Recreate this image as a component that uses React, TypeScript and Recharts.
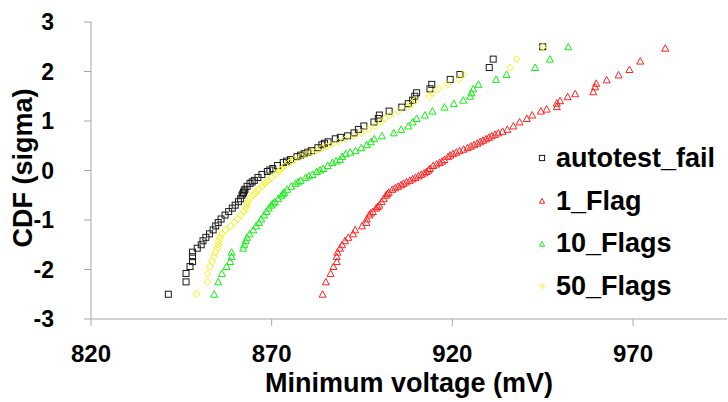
import React from 'react';
import { ScatterChart, Scatter, XAxis, YAxis, Legend, Label } from 'recharts';

const xTicks = [820, 870, 920, 970];
const yTicks = [-3, -2, -1, 0, 1, 2, 3];
const seriesNames = ['autotest_fail', '1_Flag', '10_Flags', '50_Flags'];

// [minimum voltage (mV), CDF (sigma)]
const autotestFail: [number, number][] = [
  [841.4, -2.5], [846.3, -2.25], [846.3, -2.08], [847.4, -1.94], [848.1, -1.84], [848.1, -1.74],
  [848.1, -1.65], [849.4, -1.57], [850.5, -1.5], [851.0, -1.42], [851.8, -1.35], [852.8, -1.28],
  [853.8, -1.2], [854.5, -1.12], [855.2, -1.05], [856.0, -0.98], [857.1, -0.9], [858.1, -0.83],
  [859.1, -0.76], [859.9, -0.7], [860.8, -0.63], [861.4, -0.57], [861.8, -0.5], [862.2, -0.44],
  [862.6, -0.38], [863.2, -0.32], [864.0, -0.26], [865.2, -0.2], [866.2, -0.14], [867.3, -0.08],
  [868.8, -0.02], [870.3, 0.04], [871.6, 0.1], [873.2, 0.16], [875.2, 0.22], [877.0, 0.28],
  [879.0, 0.34], [881.0, 0.4], [882.8, 0.46], [883.9, 0.52], [885.6, 0.58], [887.6, 0.64],
  [891.0, 0.7], [892.8, 0.76], [894.0, 0.83], [895.5, 0.9], [898.3, 0.98], [899.5, 1.05],
  [899.8, 1.12], [902.5, 1.2], [906.0, 1.28], [907.8, 1.35], [909.0, 1.42], [909.6, 1.5],
  [910.1, 1.57], [913.8, 1.65], [914.3, 1.74], [919.4, 1.84], [922.1, 1.94], [930.2, 2.08],
  [931.3, 2.25], [945.0, 2.5],
  [862.0, -0.47], [862.4, -0.41], [864.6, -0.23], [869.5, 0.01], [874.1, 0.19], [878.0, 0.31],
  [880.0, 0.37], [884.6, 0.55], [889.0, 0.67],
];

const oneFlag: [number, number][] = [
  [884.1, -2.5], [885.0, -2.25], [886.3, -2.08], [887.1, -1.94], [888.0, -1.84], [888.0, -1.74],
  [888.2, -1.65], [888.9, -1.57], [889.5, -1.5], [890.3, -1.42], [891.2, -1.35], [892.5, -1.28],
  [893.1, -1.2], [895.0, -1.12], [896.2, -1.05], [896.3, -0.98], [897.0, -0.9], [898.0, -0.83],
  [898.9, -0.76], [899.8, -0.7], [900.4, -0.63], [901.0, -0.57], [901.6, -0.5], [902.4, -0.44],
  [903.4, -0.38], [905.0, -0.32], [906.5, -0.26], [908.2, -0.2], [909.8, -0.14], [911.4, -0.08],
  [912.9, -0.02], [913.8, 0.04], [914.7, 0.1], [916.5, 0.16], [917.8, 0.22], [918.8, 0.28],
  [920.2, 0.34], [922.0, 0.4], [924.2, 0.46], [926.0, 0.52], [927.7, 0.58], [929.3, 0.64],
  [930.9, 0.7], [932.7, 0.76], [935.2, 0.83], [936.9, 0.9], [938.6, 0.98], [940.6, 1.05],
  [942.1, 1.12], [944.5, 1.2], [946.1, 1.24], [948.9, 1.29], [948.9, 1.36], [949.8, 1.41],
  [951.9, 1.49], [954.0, 1.55], [959.0, 1.59], [959.5, 1.69], [959.8, 1.76], [962.7, 1.83],
  [966.0, 1.93], [969.0, 2.04], [972.0, 2.21], [978.9, 2.47],
  [904.2, -0.35], [905.8, -0.29], [907.3, -0.23], [909.0, -0.17], [910.6, -0.11], [912.2, -0.05],
  [913.4, 0.01], [915.6, 0.13], [917.2, 0.19], [919.4, 0.31], [921.1, 0.37], [923.1, 0.43],
  [925.1, 0.49], [926.9, 0.55], [928.5, 0.61], [930.1, 0.67], [931.8, 0.73], [933.9, 0.79],
  [897.4, -0.86], [899.3, -0.73], [902.0, -0.47],
];

const tenFlags: [number, number][] = [
  [854.1, -2.5], [855.2, -2.25], [856.2, -2.08], [857.5, -1.94], [858.5, -1.84], [858.9, -1.74],
  [858.9, -1.65], [862.1, -1.57], [862.4, -1.5], [862.8, -1.42], [863.2, -1.35], [863.9, -1.28],
  [864.9, -1.2], [865.7, -1.12], [866.5, -1.05], [867.1, -0.98], [867.9, -0.9], [868.6, -0.83],
  [869.2, -0.76], [869.9, -0.7], [870.9, -0.63], [871.8, -0.57], [872.7, -0.5], [873.5, -0.44],
  [874.3, -0.38], [875.4, -0.32], [876.6, -0.26], [878.0, -0.2], [879.4, -0.14], [881.3, -0.08],
  [882.5, -0.02], [884.3, 0.04], [885.5, 0.1], [886.8, 0.16], [888.9, 0.22], [889.5, 0.28],
  [890.5, 0.34], [893.2, 0.4], [894.8, 0.46], [896.3, 0.52], [897.5, 0.58], [898.4, 0.64],
  [900.5, 0.7], [903.8, 0.76], [905.8, 0.83], [907.8, 0.9], [909.0, 0.98], [910.1, 1.05],
  [912.4, 1.12], [914.5, 1.2], [917.8, 1.28], [920.4, 1.35], [923.0, 1.42], [924.9, 1.5],
  [925.3, 1.57], [925.8, 1.65], [927.2, 1.74], [932.1, 1.84], [935.0, 1.94], [942.9, 2.08],
  [947.0, 2.25], [952.1, 2.5],
  [870.4, -0.66], [873.1, -0.47], [877.3, -0.23], [880.3, -0.11], [883.4, 0.01], [887.8, 0.19],
  [891.7, 0.37],
];

const fiftyFlags: [number, number][] = [
  [849.2, -2.5], [852.2, -2.25], [852.2, -2.08], [852.9, -1.94], [853.5, -1.84], [854.0, -1.74],
  [854.4, -1.65], [855.0, -1.57], [855.2, -1.5], [855.3, -1.42], [855.7, -1.35], [856.2, -1.28],
  [857.3, -1.2], [858.6, -1.12], [859.6, -1.05], [860.5, -0.98], [861.5, -0.9], [862.3, -0.83],
  [862.9, -0.76], [863.2, -0.7], [863.4, -0.63], [863.8, -0.57], [864.8, -0.5], [865.7, -0.44],
  [866.4, -0.38], [867.3, -0.32], [868.1, -0.26], [869.0, -0.2], [869.9, -0.14], [871.1, -0.08],
  [871.9, -0.02], [872.8, 0.04], [873.7, 0.1], [874.8, 0.16], [876.2, 0.22], [878.0, 0.28],
  [879.6, 0.34], [882.5, 0.4], [884.0, 0.46], [886.5, 0.52], [888.5, 0.58], [890.5, 0.64],
  [892.8, 0.7], [894.8, 0.76], [896.8, 0.83], [898.6, 0.9], [900.3, 0.98], [901.3, 1.05],
  [902.8, 1.12], [905.0, 1.2], [907.5, 1.28], [908.8, 1.35], [909.7, 1.42], [913.6, 1.5],
  [914.5, 1.57], [916.3, 1.65], [918.7, 1.74], [921.9, 1.84], [923.0, 1.94], [936.0, 2.08],
  [937.8, 2.25], [945.0, 2.5],
  [865.2, -0.47], [868.6, -0.23], [872.3, 0.01], [875.5, 0.19], [880.9, 0.37], [885.2, 0.49],
];

const font = "'Liberation Sans', Arial, sans-serif";
const axisGray = '#a6a6a6';

const toPoints = (rows: [number, number][]) => rows.map(([x, y]) => ({ x, y }));

const Square = ({ cx, cy, color, r = 3 }: any) => (
  <rect x={cx - r} y={cy - r} width={r * 2} height={r * 2} fill="none" stroke={color} strokeWidth={1} />
);

const Triangle = ({ cx, cy, color, r = 3.5 }: any) => (
  <path
    d={`M${cx},${cy - r}L${cx + r},${cy + r * 0.85}L${cx - r},${cy + r * 0.85}Z`}
    fill="none"
    stroke={color}
    strokeWidth={1}
  />
);

const Diamond = ({ cx, cy, color, r = 3.5 }: any) => (
  <path
    d={`M${cx},${cy - r}L${cx + r},${cy}L${cx},${cy + r}L${cx - r},${cy}Z`}
    fill="none"
    stroke={color}
    strokeWidth={1}
  />
);

const series = [
  { name: seriesNames[0], data: autotestFail, color: '#1a1a1a', Marker: Square },
  { name: seriesNames[1], data: oneFlag, color: '#ff2020', Marker: Triangle },
  { name: seriesNames[2], data: tenFlags, color: '#10f010', Marker: Triangle },
  { name: seriesNames[3], data: fiftyFlags, color: '#f5f500', Marker: Diamond },
];

function LegendBox() {
  return (
    <div style={{ fontFamily: font, fontWeight: 'bold', fontSize: 27, color: '#000' }}>
      {series.map(({ name, color, Marker }) => (
        <div key={name} style={{ display: 'flex', alignItems: 'center', height: 42.7 }}>
          <svg width={14} height={14} style={{ marginRight: 7 }}>
            <Marker cx={7} cy={7} color={color} r={2.6} />
          </svg>
          <span>{name}</span>
        </div>
      ))}
    </div>
  );
}

export default function App() {
  return (
    <div style={{ width: 728, height: 402, background: '#fff' }}>
      <style>{'body { margin: 0; }'}</style>
      <ScatterChart
        width={728}
        height={402}
        margin={{ top: 22, right: 1, bottom: 0, left: 0 }}
        style={{ fontFamily: font }}
      >
        <XAxis
          type="number"
          dataKey="x"
          domain={[820, 996]}
          ticks={xTicks}
          allowDataOverflow
          height={83}
          tickSize={7}
          tickMargin={19}
          stroke={axisGray}
          tick={{ fill: '#000', fontSize: 24, fontWeight: 'bold', fontFamily: font }}
        >
          <Label
            content={({ viewBox }: any) => (
              <text
                x={viewBox.x + viewBox.width / 2}
                y={viewBox.y + 73}
                textAnchor="middle"
                fontFamily={font}
                fontWeight="bold"
                fontSize={27}
                fill="#000"
              >
                Minimum voltage (mV)
              </text>
            )}
          />
        </XAxis>
        <YAxis
          type="number"
          dataKey="y"
          domain={[-3, 3]}
          ticks={yTicks}
          width={91}
          tickSize={7}
          tickMargin={30}
          stroke={axisGray}
          tick={{ fill: '#000', fontSize: 23, fontWeight: 'bold', fontFamily: font }}
        >
          <Label
            content={() => (
              <text
                transform="translate(32, 168) rotate(-90)"
                textAnchor="middle"
                fontFamily={font}
                fontWeight="bold"
                fontSize={27}
                fill="#000"
              >
                CDF (sigma)
              </text>
            )}
          />
        </YAxis>
        <Legend
          layout="vertical"
          align="center"
          verticalAlign="middle"
          content={() => <LegendBox />}
          wrapperStyle={{ left: 535, top: 137, width: 193 }}
        />
        {series.map(({ name, data, color, Marker }) => (
          <Scatter
            key={name}
            name={name}
            data={toPoints(data)}
            isAnimationActive={false}
            shape={(p: any) => <Marker cx={p.cx} cy={p.cy} color={color} />}
          />
        ))}
      </ScatterChart>
    </div>
  );
}
